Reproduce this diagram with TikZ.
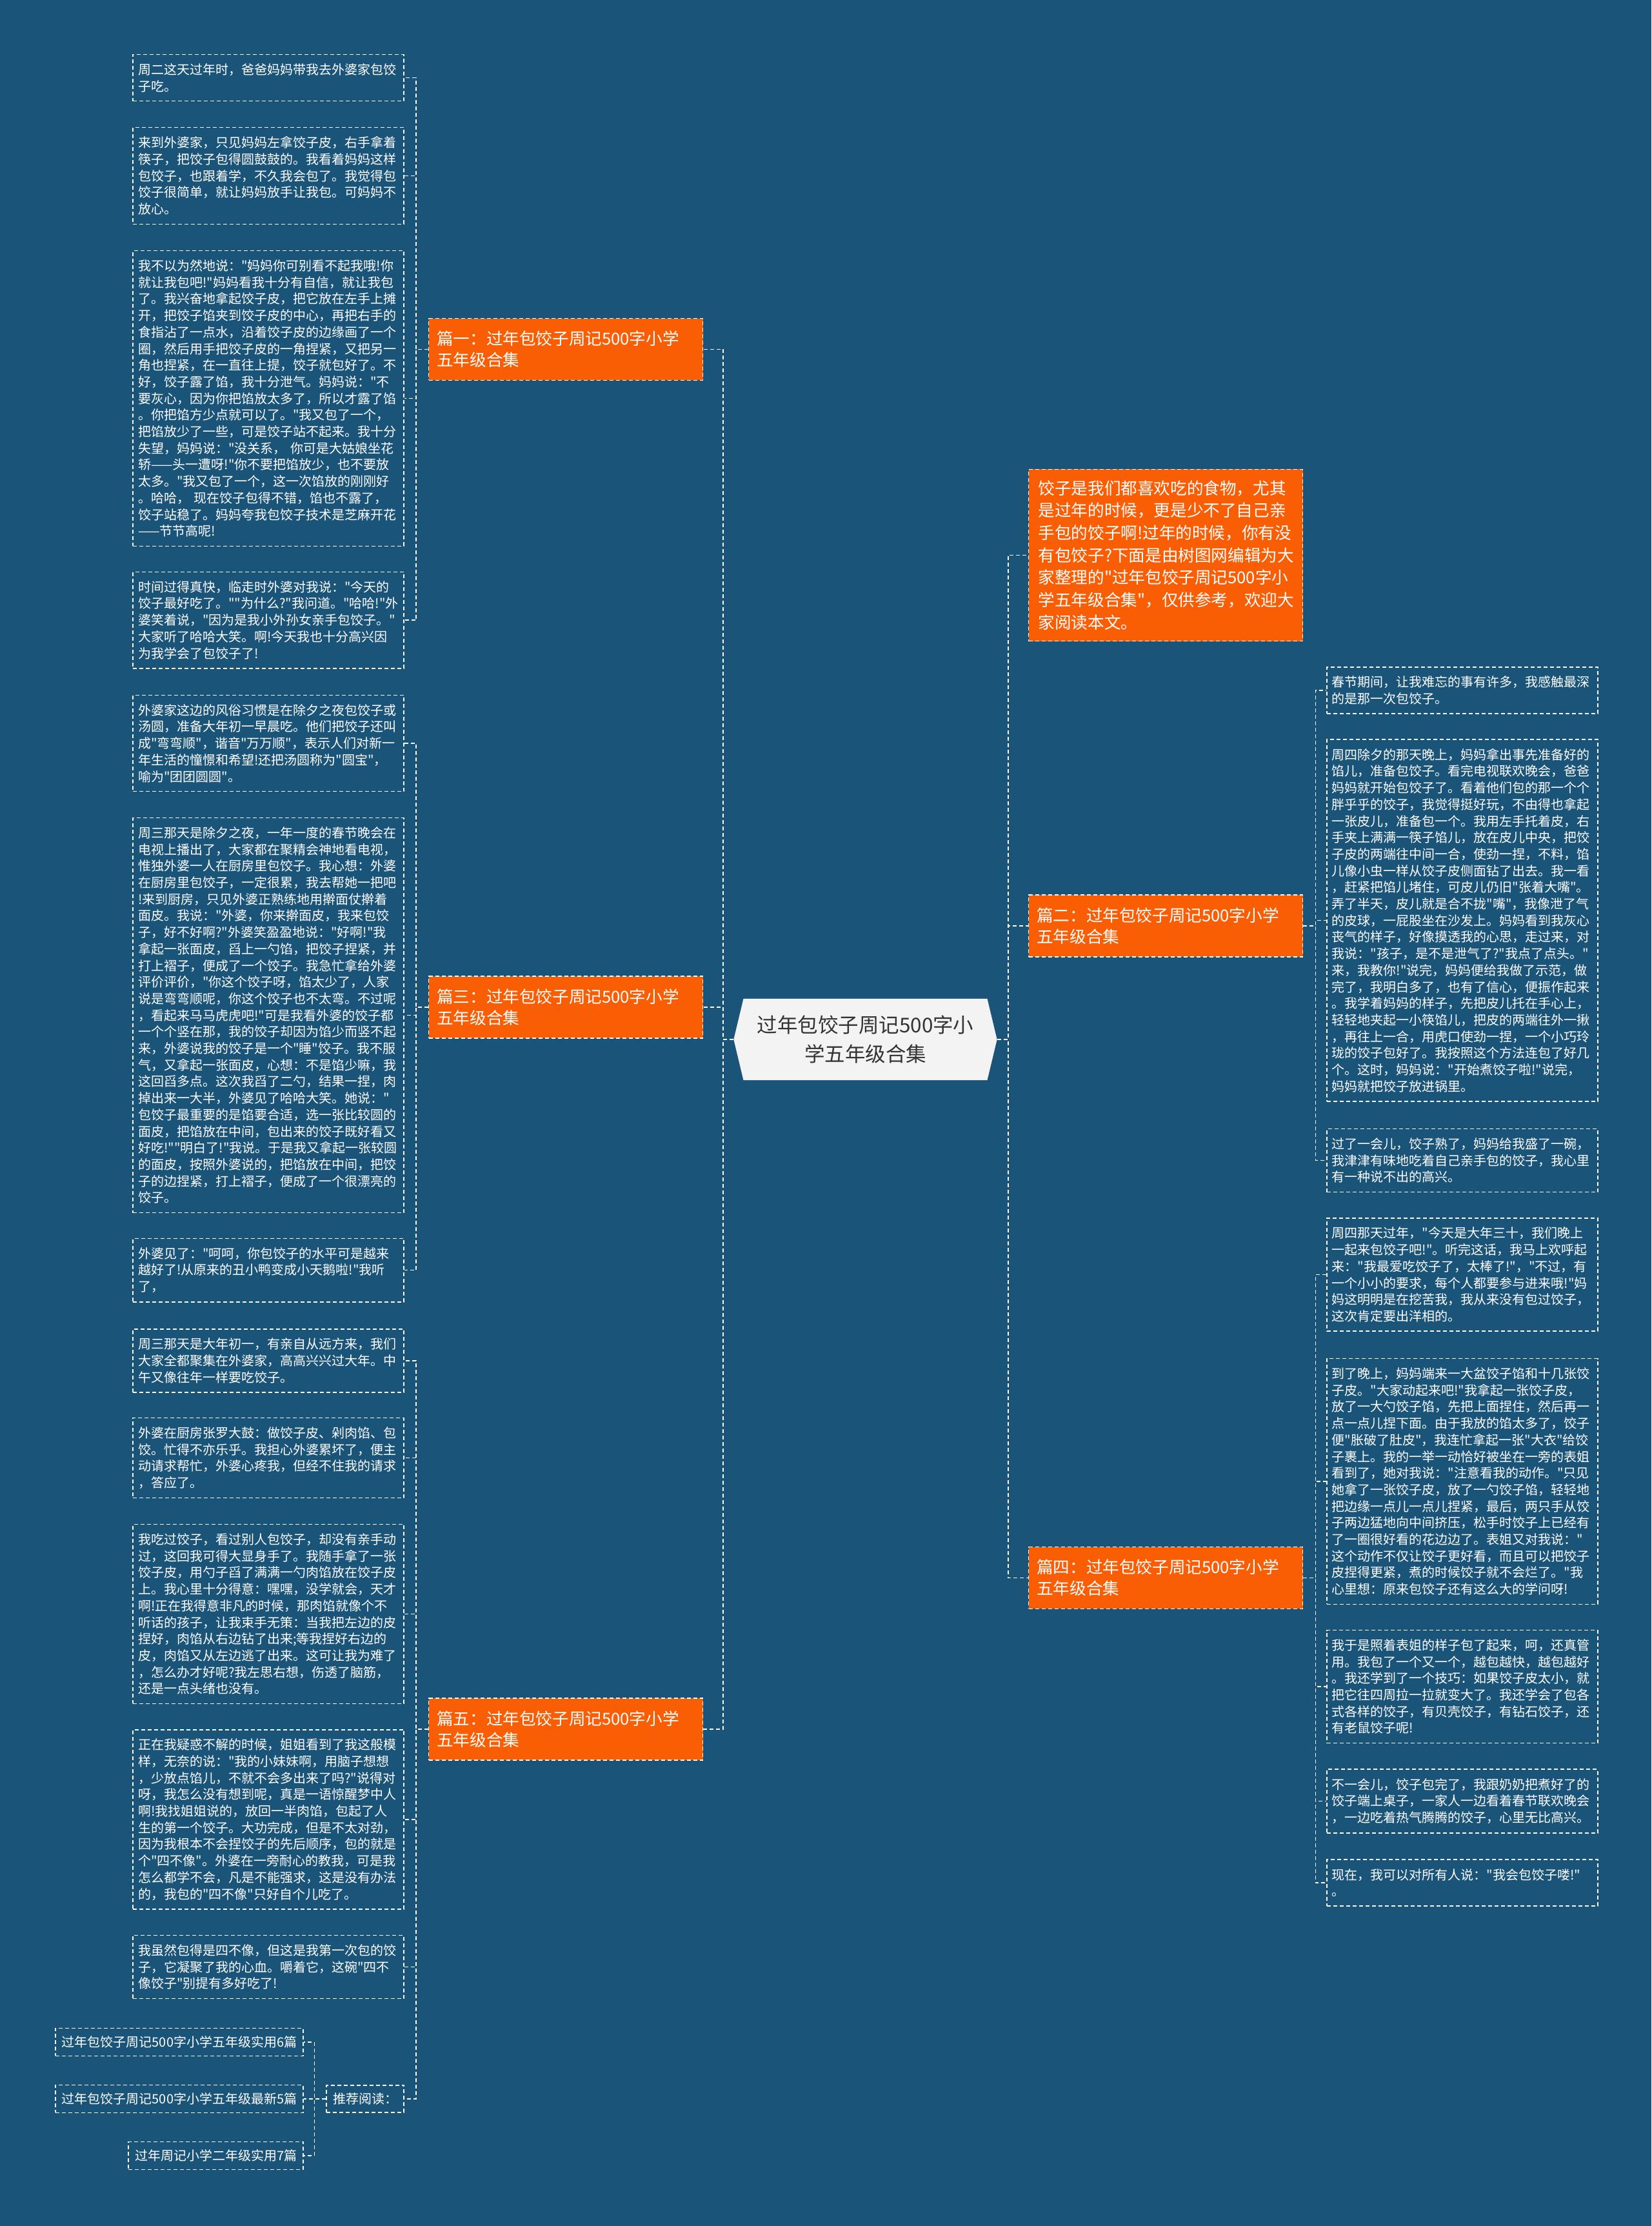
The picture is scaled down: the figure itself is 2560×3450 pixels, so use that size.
\documentclass[tikz,border=0pt]{standalone}
\usepackage{fontspec}
\setmainfont{Noto Sans CJK SC}[Ligatures=TeXOff]
\usetikzlibrary{shapes.symbols}

\definecolor{bgblue}{RGB}{27,84,121}
\definecolor{pianor}{RGB}{249,94,5}
\definecolor{rootgray}{RGB}{243,243,243}
\definecolor{rootink}{RGB}{51,51,51}

\tikzset{
  link/.style={draw=white, line width=1.6pt, dash pattern=on 6pt off 4pt},
  leaf/.style={draw=white, line width=1.6pt, dash pattern=on 6pt off 4pt, text=white,
    font=\fontsize{20}{25.7}\selectfont, text width=404pt, inner xsep=8pt, inner ysep=14pt, align=left},
  recbox/.style={draw=white, line width=1.6pt, dash pattern=on 6pt off 4pt, text=white,
    font=\fontsize{20}{25.7}\selectfont, inner xsep=10pt, inner ysep=12pt},
  pian/.style={fill=pianor, draw=white, line width=1.4pt, dash pattern=on 6pt off 4pt, text=white,
    font=\fontsize{25.6}{33}\selectfont, text width=400pt, inner xsep=12.5pt, inner ysep=19.5pt, align=left},
  intro/.style={pian, font=\fontsize{25.6}{34.7}\selectfont, text width=395pt, inner xsep=15pt, inner ysep=17pt},
  rootnode/.style={signal, signal to=west and east, signal pointer angle=153, fill=rootgray, text=rootink,
    font=\fontsize{31.5}{45}\selectfont, align=center, inner xsep=21pt, inner ysep=26pt}
}

\begin{document}
\begin{tikzpicture}[x=1pt,y=-1pt]
  \fill[bgblue] (0,0) rectangle (2560,3450);
  \useasboundingbox (0,0) rectangle (2560,3450);

  \node[rootnode] (root) at (1341.5,1611) {过年包饺子周记500字小\\学五年级合集};

  % left side
  \node[pian, anchor=west] (pian1) at (664,541.5) {篇一：过年包饺子周记500字小学\\五年级合集};
  \node[pian, anchor=west] (pian3) at (664,1561) {篇三：过年包饺子周记500字小学\\五年级合集};
  \node[pian, anchor=west] (pian5) at (664,2680) {篇五：过年包饺子周记500字小学\\五年级合集};

  \node[leaf, anchor=east] (l1) at (627,120.5) {周二这天过年时，爸爸妈妈带我去外婆家包饺\\子吃。};
  \node[leaf, anchor=east] (l2) at (627,272.5) {来到外婆家，只见妈妈左拿饺子皮，右手拿着\\筷子，把饺子包得圆鼓鼓的。我看着妈妈这样\\包饺子，也跟着学，不久我会包了。我觉得包\\饺子很简单，就让妈妈放手让我包。可妈妈不\\放心。};
  \node[leaf, anchor=east] (l3) at (627,617.5) {我不以为然地说："妈妈你可别看不起我哦!你\\就让我包吧!"妈妈看我十分有自信，就让我包\\了。我兴奋地拿起饺子皮，把它放在左手上摊\\开，把饺子馅夹到饺子皮的中心，再把右手的\\食指沾了一点水，沿着饺子皮的边缘画了一个\\圈，然后用手把饺子皮的一角捏紧，又把另一\\角也捏紧，在一直往上提，饺子就包好了。不\\好，饺子露了馅，我十分泄气。妈妈说："不\\要灰心，因为你把馅放太多了，所以才露了馅\\。你把馅方少点就可以了。"我又包了一个，\\把馅放少了一些，可是饺子站不起来。我十分\\失望，妈妈说："没关系，~你可是大姑娘坐花\\轿——头一遭呀!"你不要把馅放少，也不要放\\太多。"我又包了一个，这一次馅放的刚刚好\\。哈哈，~现在饺子包得不错，馅也不露了，\\饺子站稳了。妈妈夸我包饺子技术是芝麻开花\\——节节高呢!};
  \node[leaf, anchor=east] (l4) at (627,961) {时间过得真快，临走时外婆对我说："今天的\\饺子最好吃了。""为什么?"我问道。"哈哈!"外\\婆笑着说，"因为是我小外孙女亲手包饺子。"\\大家听了哈哈大笑。啊!今天我也十分高兴因\\为我学会了包饺子了!};
  \node[leaf, anchor=east] (l5) at (627,1152) {外婆家这边的风俗习惯是在除夕之夜包饺子或\\汤圆，准备大年初一早晨吃。他们把饺子还叫\\成"弯弯顺"，谐音"万万顺"，表示人们对新一\\年生活的憧憬和希望!还把汤圆称为"圆宝"，\\喻为"团团圆圆"。};
  \node[leaf, anchor=east] (l6) at (627,1573.5) {周三那天是除夕之夜，一年一度的春节晚会在\\电视上播出了，大家都在聚精会神地看电视，\\惟独外婆一人在厨房里包饺子。我心想：外婆\\在厨房里包饺子，一定很累，我去帮她一把吧\\!来到厨房，只见外婆正熟练地用擀面仗擀着\\面皮。我说："外婆，你来擀面皮，我来包饺\\子，好不好啊?"外婆笑盈盈地说："好啊!"我\\拿起一张面皮，舀上一勺馅，把饺子捏紧，并\\打上褶子，便成了一个饺子。我急忙拿给外婆\\评价评价，"你这个饺子呀，馅太少了，人家\\说是弯弯顺呢，你这个饺子也不太弯。不过呢\\，看起来马马虎虎吧!"可是我看外婆的饺子都\\一个个竖在那，我的饺子却因为馅少而竖不起\\来，外婆说我的饺子是一个"睡"饺子。我不服\\气，又拿起一张面皮，心想：不是馅少嘛，我\\这回舀多点。这次我舀了二勺，结果一捏，肉\\掉出来一大半，外婆见了哈哈大笑。她说："\\包饺子最重要的是馅要合适，选一张比较圆的\\面皮，把馅放在中间，包出来的饺子既好看又\\好吃!""明白了!"我说。于是我又拿起一张较圆\\的面皮，按照外婆说的，把馅放在中间，把饺\\子的边捏紧，打上褶子，便成了一个很漂亮的\\饺子。};
  \node[leaf, anchor=east] (l7) at (627,1968.5) {外婆见了："呵呵，你包饺子的水平可是越来\\越好了!从原来的丑小鸭变成小天鹅啦!"我听\\了，};
  \node[leaf, anchor=east] (l8) at (627,2109) {周三那天是大年初一，有亲自从远方来，我们\\大家全都聚集在外婆家，高高兴兴过大年。中\\午又像往年一样要吃饺子。};
  \node[leaf, anchor=east] (l9) at (627,2259.5) {外婆在厨房张罗大鼓：做饺子皮、剁肉馅、包\\饺。忙得不亦乐乎。我担心外婆累坏了，便主\\动请求帮忙，外婆心疼我，但经不住我的请求\\，答应了。};
  \node[leaf, anchor=east] (l10) at (627,2501.5) {我吃过饺子，看过别人包饺子，却没有亲手动\\过，这回我可得大显身手了。我随手拿了一张\\饺子皮，用勺子舀了满满一勺肉馅放在饺子皮\\上。我心里十分得意：嘿嘿，没学就会，天才\\啊!正在我得意非凡的时候，那肉馅就像个不\\听话的孩子，让我束手无策：当我把左边的皮\\捏好，肉馅从右边钻了出来;等我捏好右边的\\皮，肉馅又从左边逃了出来。这可让我为难了\\，怎么办才好呢?我左思右想，伤透了脑筋，\\还是一点头绪也没有。};
  \node[leaf, anchor=east] (l11) at (627,2820) {正在我疑惑不解的时候，姐姐看到了我这般模\\样，无奈的说："我的小妹妹啊，用脑子想想\\，少放点馅儿，不就不会多出来了吗?"说得对\\呀，我怎么没有想到呢，真是一语惊醒梦中人\\啊!我找姐姐说的，放回一半肉馅，包起了人\\生的第一个饺子。大功完成，但是不太对劲，\\因为我根本不会捏饺子的先后顺序，包的就是\\个"四不像"。外婆在一旁耐心的教我，可是我\\怎么都学不会，凡是不能强求，这是没有办法\\的，我包的"四不像"只好自个儿吃了。};
  \node[leaf, anchor=east] (l12) at (627,3048.5) {我虽然包得是四不像，但这是我第一次包的饺\\子，它凝聚了我的心血。嚼着它，这碗"四不\\像饺子"别提有多好吃了!};
  \node[recbox, anchor=east] (tuijian) at (627,3253) {推荐阅读：};
  \node[recbox, anchor=east] (rec6) at (471,3165) {过年包饺子周记500字小学五年级实用6篇};
  \node[recbox, anchor=east] (rec5) at (471,3253) {过年包饺子周记500字小学五年级最新5篇};
  \node[recbox, anchor=east] (rec7) at (471,3341) {过年周记小学二年级实用7篇};

  % right side
  \node[intro, anchor=west] (intro) at (1594,860.5) {饺子是我们都喜欢吃的食物，尤其\\是过年的时候，更是少不了自己亲\\手包的饺子啊!过年的时候，你有没\\有包饺子?下面是由树图网编辑为大\\家整理的"过年包饺子周记500字小\\学五年级合集"，仅供参考，欢迎大\\家阅读本文。};
  \node[pian, anchor=west] (pian2) at (1594,1435) {篇二：过年包饺子周记500字小学\\五年级合集};
  \node[pian, anchor=west] (pian4) at (1594,2445.5) {篇四：过年包饺子周记500字小学\\五年级合集};

  \node[leaf, anchor=west] (r1) at (2056,1070) {春节期间，让我难忘的事有许多，我感触最深\\的是那一次包饺子。};
  \node[leaf, anchor=west] (r2) at (2056,1426.5) {周四除夕的那天晚上，妈妈拿出事先准备好的\\馅儿，准备包饺子。看完电视联欢晚会，爸爸\\妈妈就开始包饺子了。看着他们包的那一个个\\胖乎乎的饺子，我觉得挺好玩，不由得也拿起\\一张皮儿，准备包一个。我用左手托着皮，右\\手夹上满满一筷子馅儿，放在皮儿中央，把饺\\子皮的两端往中间一合，使劲一捏，不料，馅\\儿像小虫一样从饺子皮侧面钻了出去。我一看\\，赶紧把馅儿堵住，可皮儿仍旧"张着大嘴"。\\弄了半天，皮儿就是合不拢"嘴"，我像泄了气\\的皮球，一屁股坐在沙发上。妈妈看到我灰心\\丧气的样子，好像摸透我的心思，走过来，对\\我说："孩子，是不是泄气了?"我点了点头。"\\来，我教你!"说完，妈妈便给我做了示范，做\\完了，我明白多了，也有了信心，便振作起来\\。我学着妈妈的样子，先把皮儿托在手心上，\\轻轻地夹起一小筷馅儿，把皮的两端往外一揪\\，再往上一合，用虎口使劲一捏，一个小巧玲\\珑的饺子包好了。我按照这个方法连包了好几\\个。这时，妈妈说："开始煮饺子啦!"说完，\\妈妈就把饺子放进锅里。};
  \node[leaf, anchor=west] (r3) at (2056,1798.5) {过了一会儿，饺子熟了，妈妈给我盛了一碗，\\我津津有味地吃着自己亲手包的饺子，我心里\\有一种说不出的高兴。};
  \node[leaf, anchor=west] (r4) at (2056,1975.5) {周四那天过年，"今天是大年三十，我们晚上\\一起来包饺子吧!"。听完这话，我马上欢呼起\\来："我最爱吃饺子了，太棒了!"，"不过，有\\一个小小的要求，每个人都要参与进来哦!"妈\\妈这明明是在挖苦我，我从来没有包过饺子，\\这次肯定要出洋相的。};
  \node[leaf, anchor=west] (r5) at (2056,2296) {到了晚上，妈妈端来一大盆饺子馅和十几张饺\\子皮。"大家动起来吧!"我拿起一张饺子皮，\\放了一大勺饺子馅，先把上面捏住，然后再一\\点一点儿捏下面。由于我放的馅太多了，饺子\\便"胀破了肚皮"，我连忙拿起一张"大衣"给饺\\子裹上。我的一举一动恰好被坐在一旁的表姐\\看到了，她对我说："注意看我的动作。"只见\\她拿了一张饺子皮，放了一勺饺子馅，轻轻地\\把边缘一点儿一点儿捏紧，最后，两只手从饺\\子两边猛地向中间挤压，松手时饺子上已经有\\了一圈很好看的花边边了。表姐又对我说："\\这个动作不仅让饺子更好看，而且可以把饺子\\皮捏得更紧，煮的时候饺子就不会烂了。"我\\心里想：原来包饺子还有这么大的学问呀!};
  \node[leaf, anchor=west] (r6) at (2056,2614) {我于是照着表姐的样子包了起来，呵，还真管\\用。我包了一个又一个，越包越快，越包越好\\。我还学到了一个技巧：如果饺子皮太小，就\\把它往四周拉一拉就变大了。我还学会了包各\\式各样的饺子，有贝壳饺子，有钻石饺子，还\\有老鼠饺子呢!};
  \node[leaf, anchor=west] (r7) at (2056,2791.5) {不一会儿，饺子包完了，我跟奶奶把煮好了的\\饺子端上桌子，一家人一边看着春节联欢晚会\\，一边吃着热气腾腾的饺子，心里无比高兴。};
  \node[leaf, anchor=west] (r8) at (2056,2918) {现在，我可以对所有人说："我会包饺子喽!"\\。};

  % connectors
  \draw[link] (root.west) -- ++(-16,0) |- (pian1.east);
  \draw[link] (root.west) -- ++(-16,0) |- (pian3.east);
  \draw[link] (root.west) -- ++(-16,0) |- (pian5.east);
  \draw[link] (root.east) -- ++(17,0) |- (intro.west);
  \draw[link] (root.east) -- ++(17,0) |- (pian2.west);
  \draw[link] (root.east) -- ++(17,0) |- (pian4.west);

  \draw[link] (pian1.west) -- ++(-19,0) |- (l1.east);
  \draw[link] (pian1.west) -- ++(-19,0) |- (l2.east);
  \draw[link] (pian1.west) -- ++(-19,0) |- (l3.east);
  \draw[link] (pian1.west) -- ++(-19,0) |- (l4.east);
  \draw[link] (pian3.west) -- ++(-19,0) |- (l5.east);
  \draw[link] (pian3.west) -- ++(-19,0) |- (l6.east);
  \draw[link] (pian3.west) -- ++(-19,0) |- (l7.east);
  \draw[link] (pian5.west) -- ++(-19,0) |- (l8.east);
  \draw[link] (pian5.west) -- ++(-19,0) |- (l9.east);
  \draw[link] (pian5.west) -- ++(-19,0) |- (l10.east);
  \draw[link] (pian5.west) -- ++(-19,0) |- (l11.east);
  \draw[link] (pian5.west) -- ++(-19,0) |- (l12.east);
  \draw[link] (pian5.west) -- ++(-19,0) |- (tuijian.east);
  \draw[link] (tuijian.west) -- ++(-18,0) |- (rec6.east);
  \draw[link] (tuijian.west) -- ++(-18,0) |- (rec5.east);
  \draw[link] (tuijian.west) -- ++(-18,0) |- (rec7.east);

  \draw[link] (pian2.east) -- ++(19,0) |- (r1.west);
  \draw[link] (pian2.east) -- ++(19,0) |- (r2.west);
  \draw[link] (pian2.east) -- ++(19,0) |- (r3.west);
  \draw[link] (pian4.east) -- ++(19,0) |- (r4.west);
  \draw[link] (pian4.east) -- ++(19,0) |- (r5.west);
  \draw[link] (pian4.east) -- ++(19,0) |- (r6.west);
  \draw[link] (pian4.east) -- ++(19,0) |- (r7.west);
  \draw[link] (pian4.east) -- ++(19,0) |- (r8.west);
\end{tikzpicture}
\end{document}
